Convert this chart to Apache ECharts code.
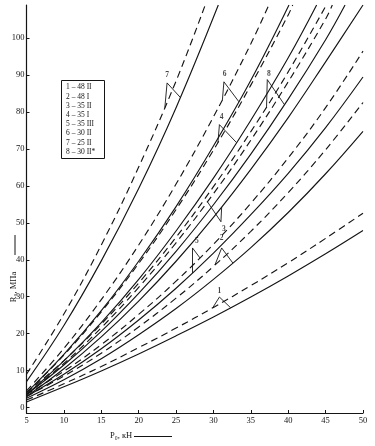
<!DOCTYPE html>
<html><head><meta charset="utf-8">
<script src="https://cdn.jsdelivr.net/npm/echarts@6/dist/echarts.min.js"></script>
<style>html,body{margin:0;padding:0;background:#fff}#c{width:375px;height:446px}</style>
</head><body><div id="c"></div>
<script>
// ---- data (P0 in kN, R0 in MPa) ----
const xTicks = [5,10,15,20,25,30,35,40,45,50];
const yTicks = [0,10,20,30,40,50,60,70,80,90,100];

const solid1  = [[5,1.5],[10,5.6],[15,9.9],[20,14.5],[25,19.4],[30,24.5],[35,29.9],[40,35.6],[45,41.6],[50,47.9]];
const dashed1 = [[5,2],[10,6.4],[15,11.1],[20,16.2],[25,21.5],[30,27.1],[35,33.0],[40,39.2],[45,45.8],[50,52.6]];
const solid2  = [[5,2.5],[10,7.5],[15,13.2],[20,19.7],[25,26.8],[30,34.7],[35,43.3],[40,52.8],[45,63.3],[50,74.8]];
const dashed2 = [[5,3],[10,8.5],[15,14.7],[20,21.8],[25,29.6],[30,38.2],[35,47.7],[40,58.2],[45,69.8],[50,82.6]];
const solid3  = [[5,3],[10,10.5],[15,19.1],[20,28.8],[25,39.6],[30,51.5],[35,64.5],[40,78.5],[45,93.6],[50,109]];
const dashed3 = [[5,3.5],[10,11.9],[15,21.6],[20,32.5],[25,44.6],[30,57.9],[35,72.4],[40,88.2],[45,105.2],[45.9,109]];
const solid4  = [[5,3.5],[10,12.6],[15,23.0],[20,34.7],[25,47.8],[30,62.1],[35,77.8],[40,94.7],[43.8,109]];
const dashed4 = [[5,4],[10,14.2],[15,25.9],[20,39.0],[25,53.6],[30,69.7],[35,87.3],[40,106.3],[40.6,109]];
const solid5  = [[5,3],[10,9.0],[15,15.9],[20,23.7],[25,32.3],[30,41.8],[35,52.2],[40,63.4],[45,75.8],[50,89.5]];
const dashed5 = [[5,3.5],[10,9.8],[15,17.0],[20,25.2],[25,34.2],[30,44.2],[35,55.3],[40,67.6],[45,81.2],[50,96.5]];
const solid6  = [[5,4],[10,14.4],[15,26.2],[20,39.6],[25,54.4],[30,70.8],[35,88.6],[40.1,109]];
const dashed6 = [[5,4.5],[10,16.0],[15,29.2],[20,44.0],[25,60.5],[30,78.7],[35,98.5],[37.4,109]];
const solid7  = [[5,7],[10,22.2],[15,39.7],[20,59.3],[25,81.2],[30.65,109]];
const dashed7 = [[5,9],[10,25.3],[15,44.0],[20,65.1],[25,88.4],[28.9,109]];
const solid8  = [[5,3.5],[10,11.5],[15,20.6],[20,30.9],[25,42.3],[30,54.9],[35,68.6],[40,83.5],[45,99.6],[47.6,109]];
const dashed8 = [[5,4],[10,12.7],[15,22.6],[20,33.7],[25,46.1],[30,59.8],[35,74.7],[40,90.9],[45.1,109]];

const legendLines = ['1 – 48 II','2 – 48 I','3 – 35 II','4 – 35 I','5 – 35 III','6 – 30 II','7 – 25 II','8 – 30 II*'];

// curve annotations: number, label point, bracket (tip, apex, tip) in data coords
const annotNames   = ['1','2','3','4','5','6','7','8'];
const annotLabelAt = [[30.8,31.6],[31.1,45.8],[31.4,48.2],[31.1,78.6],[27.8,45.2],[31.5,90.4],[23.8,89.9],[37.4,90.4]];
const annotBracket = [
  [[29.9,27],[30.8,29.9],[32.3,27]],
  [[30.2,38.6],[31.1,43.2],[32.6,39.1]],
  [[29.2,55.7],[31.0,50.3],[31.1,54.3]],
  [[30.6,71.7],[30.8,76.6],[33.1,71.7]],
  [[27.2,36.4],[27.2,43.2],[28.2,40.5]],
  [[31.2,83.3],[31.4,88.2],[33.4,82.8]],
  [[23.5,81.2],[23.8,87.9],[25.6,83.9]],
  [[37.1,81.4],[37.2,88.8],[39.5,82]]
];

const curves = [
  {d:solid1,dash:false},{d:dashed1,dash:true},
  {d:solid2,dash:false},{d:dashed2,dash:true},
  {d:solid3,dash:false},{d:dashed3,dash:true},
  {d:solid4,dash:false},{d:dashed4,dash:true},
  {d:solid5,dash:false},{d:dashed5,dash:true},
  {d:solid6,dash:false},{d:dashed6,dash:true},
  {d:solid7,dash:false},{d:dashed7,dash:true},
  {d:solid8,dash:false},{d:dashed8,dash:true}
];

const FONT = '"Liberation Serif","DejaVu Serif",serif';
const INK = '#151515';
const chart = echarts.init(document.getElementById('c'), null, {renderer:'canvas'});

const series = [];
curves.forEach(c => series.push({
  type:'line', data:c.d, smooth:0.4, symbol:'none', silent:true, clip:true,
  lineStyle:{color:INK, width:1.15, type: c.dash ? [7,4.5] : 'solid'}
}));
annotBracket.forEach(b => series.push({
  type:'line', data:b, smooth:false, symbol:'none', silent:true,
  lineStyle:{color:INK, width:0.9}
}));
series.push({
  type:'scatter', silent:true, symbolSize:0,
  data: annotLabelAt.map((p,i)=>[p[0],p[1],annotNames[i]]),
  label:{show:true, position:'inside', formatter:p=>p.data[2], color:INK, fontSize:7.5, fontFamily:FONT, fontWeight:'bold'}
});

const legendGraphics = [{type:'rect', shape:{x:61.5,y:80.5,width:43,height:78}, style:{fill:'#fff', stroke:INK, lineWidth:1}}];
legendLines.forEach((t,i)=>legendGraphics.push({
  type:'text', x:66, y:87.5+i*9.2,
  style:{text:t, fill:INK, font:'7.5px '+FONT, textVerticalAlign:'middle'}
}));

chart.setOption({
  animation:false,
  backgroundColor:'#fff',
  grid:{left:26.5, right:12, top:5, bottom:33},
  xAxis:{
    type:'value', min:5, max:50, interval:5,
    axisLine:{onZero:false, lineStyle:{color:INK, width:1.2}},
    axisTick:{inside:true, length:3, lineStyle:{color:INK}},
    axisLabel:{color:INK, fontSize:8.5, fontFamily:FONT, margin:3},
    splitLine:{show:false}
  },
  yAxis:{
    type:'value', min:-1.5, max:109,
    axisLine:{show:true, onZero:false, lineStyle:{color:INK, width:1.2}},
    axisTick:{show:true, inside:true, length:3, customValues:yTicks, lineStyle:{color:INK}},
    axisLabel:{customValues:yTicks, color:INK, fontSize:8.5, fontFamily:FONT, margin:2},
    splitLine:{show:false}
  },
  series: series,
  graphic: legendGraphics.concat([
    {type:'text', x:14, y:287, rotation:Math.PI/2,
     style:{text:'R₀, МПа', fill:INK, font:'8.5px '+FONT, textAlign:'center', textVerticalAlign:'middle'}},
    {type:'line', shape:{x1:15,y1:235,x2:15,y2:255}, style:{stroke:INK, lineWidth:1}},
    {type:'text', x:110, y:436,
     style:{text:'P₀, кН', fill:INK, font:'8.5px '+FONT, textVerticalAlign:'middle'}},
    {type:'line', shape:{x1:134,y1:436.5,x2:172,y2:436.5}, style:{stroke:INK, lineWidth:1}}
  ])
});
</script></body></html>
